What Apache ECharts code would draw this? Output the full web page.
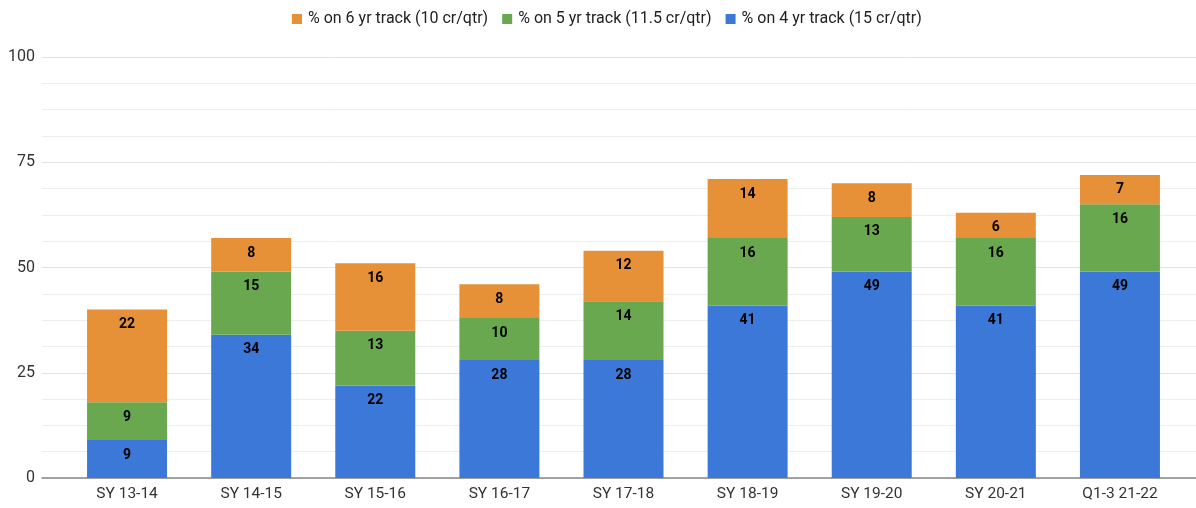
<!DOCTYPE html>
<html>
<head>
<meta charset="utf-8">
<script src="https://cdn.jsdelivr.net/npm/echarts@6/dist/echarts.min.js"></script>
<style>
  html, body { margin: 0; padding: 0; background: #fff; }
  #chart { width: 1196px; height: 508px; }
</style>
</head>
<body>
<div id="chart"></div>
<script>
/* ── Data ─────────────────────────────────────────────────────────── */
const categories = ['SY 13-14', 'SY 14-15', 'SY 15-16', 'SY 16-17', 'SY 17-18', 'SY 18-19', 'SY 19-20', 'SY 20-21', 'Q1-3 21-22'];
const track4 = [9, 34, 22, 28, 28, 41, 49, 41, 49];
const track5 = [9, 15, 13, 10, 14, 16, 13, 16, 16];
const track6 = [22, 8, 16, 8, 12, 14, 8, 6, 7];
const yTicks = [0, 25, 50, 75, 100];

const names = {
    t6: '% on 6 yr track (10 cr/qtr)',
    t5: '% on 5 yr track (11.5 cr/qtr)',
    t4: '% on 4 yr track (15 cr/qtr)'
};
const colors = { t6: '#e69138', t5: '#6aa84f', t4: '#3c78d8' };

/* ── Chart ────────────────────────────────────────────────────────── */
const chart = echarts.init(document.getElementById('chart'), null, { renderer: 'canvas' });

function barSeries(name, data, color) {
    return {
        name,
        type: 'bar',
        stack: 'total',
        xAxisIndex: 1,
        yAxisIndex: 1,
        data,
        barWidth: 80,
        itemStyle: { color },
        label: {
            show: true,
            position: 'insideTop',
            distance: 8,
            color: '#000',
            fontFamily: 'Roboto',
            fontWeight: 'bold',
            fontSize: 14
        },
        emphasis: { disabled: true }
    };
}

chart.setOption({
    animation: false,
    backgroundColor: '#fff',
    textStyle: { fontFamily: 'Roboto' },
    legend: {
        top: 6,
        left: 287,
        itemWidth: 10,
        itemHeight: 10,
        itemGap: 14,
        icon: 'rect',
        data: [names.t6, names.t5, names.t4],
        textStyle: { fontFamily: 'Roboto', fontSize: 16, color: '#222', padding: [0, 0, 0, 1] }
    },
    grid: [
        { left: 42, right: 0, top: 57, bottom: 30 },
        { left: 65, right: 14, top: 57, bottom: 30 }
    ],
    xAxis: [
        {
            gridIndex: 0,
            type: 'value',
            min: 0,
            max: 1,
            axisLine: { show: true, lineStyle: { color: '#888', width: 1.5 } },
            axisTick: { show: false },
            axisLabel: { show: false },
            splitLine: { show: false }
        },
        {
            gridIndex: 1,
            type: 'category',
            data: categories,
            axisLine: { show: false },
            axisTick: { show: false },
            axisLabel: { color: '#333', fontSize: 15.5, fontFamily: 'Roboto', margin: 8 }
        }
    ],
    yAxis: [
        {
            gridIndex: 0,
            type: 'value',
            min: yTicks[0],
            max: yTicks[yTicks.length - 1],
            interval: 25,
            axisLine: { show: false },
            axisTick: { show: false },
            axisLabel: { color: '#333', fontSize: 16, fontFamily: 'Roboto', margin: 7 },
            splitLine: { lineStyle: { color: '#e3e3e3', width: 1 } },
            minorTick: { show: false, splitNumber: 4 },
            minorSplitLine: { show: true, lineStyle: { color: '#eeeeee', width: 1 } }
        },
        {
            gridIndex: 1,
            type: 'value',
            min: 0,
            max: 100,
            show: false
        }
    ],
    series: [
        barSeries(names.t4, track4, colors.t4),
        barSeries(names.t5, track5, colors.t5),
        barSeries(names.t6, track6, colors.t6)
    ]
});
</script>
</body>
</html>
